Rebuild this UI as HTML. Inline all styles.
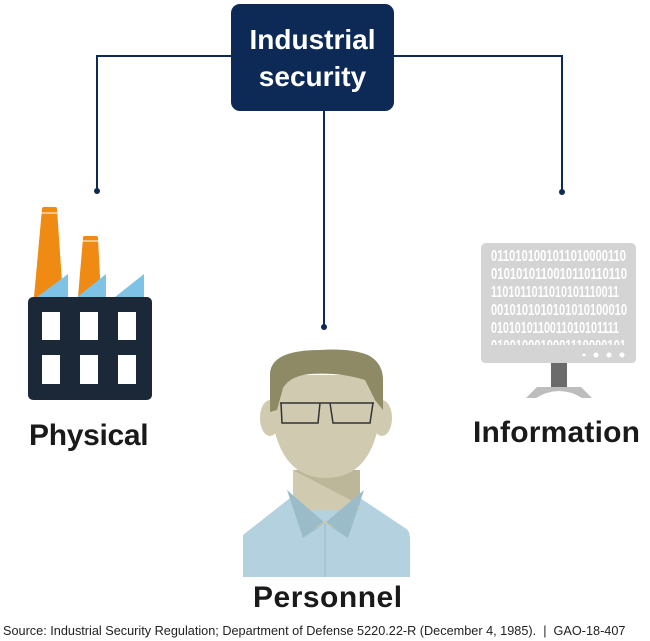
<!DOCTYPE html>
<html><head><style>
body{margin:0;width:650px;height:641px;background:#fff;position:relative;overflow:hidden;font-family:"Liberation Sans",Arial,sans-serif}
.t{position:absolute;font-weight:bold;color:#1a1a1a}
</style></head><body>
<svg width="650" height="641" style="position:absolute;left:0;top:0">
<g stroke="#0c2a55" stroke-width="2" fill="none">
<path d="M231 56 H97 V190"/><path d="M394 56 H562 V191"/><path d="M324 111 V326"/>
</g>
<g fill="#0c2a55"><circle cx="97" cy="191" r="3"/><circle cx="562" cy="192" r="3"/><circle cx="324" cy="327" r="3"/></g>
<rect x="231" y="4" width="163" height="107" rx="9" fill="#0c2a55"/>
<text x="312.5" y="49" text-anchor="middle" fill="#fff" font-size="28" font-weight="bold" font-family="Liberation Sans,Arial,sans-serif">Industrial</text>
<text x="312.5" y="86" text-anchor="middle" fill="#fff" font-size="28" font-weight="bold" font-family="Liberation Sans,Arial,sans-serif">security</text>
<!-- factory -->
<path d="M42 209 Q42 207 44 207 H55 Q57 207 57 209 L63 297 H34 Z" fill="#ef8a12"/>
<path d="M83 238 Q83 236 85 236 H96 Q98 236 98 238 L101 297 H78 Z" fill="#ef8a12"/>
<path d="M41 213 H57 M82 241 H99" stroke="#fff" stroke-width="1"/>
<g fill="#7ec3e6"><path d="M37 297 L68 274 V297Z"/><path d="M77 297 L106 274 V297Z"/><path d="M115 297 L144 274 V297Z"/></g>
<rect x="28" y="297" width="124" height="103" rx="5" fill="#1b2838"/>
<g fill="#fff"><rect x="42" y="312" width="18" height="28"/><rect x="80" y="312" width="18" height="28"/><rect x="118" y="312" width="18" height="28"/>
<rect x="42" y="355" width="18" height="29"/><rect x="80" y="355" width="18" height="29"/><rect x="118" y="355" width="18" height="29"/></g>
<!-- monitor -->
<rect x="481" y="243" width="155" height="120" rx="5" fill="#d4d4d4"/>
<g fill="#fff" font-family="Liberation Sans,Arial,sans-serif" font-weight="bold" font-size="16">
<text x="491" y="261" textLength="135" lengthAdjust="spacingAndGlyphs">0110101001011010000110</text>
<text x="491" y="279" textLength="136" lengthAdjust="spacingAndGlyphs">0101010110010110110110</text>
<text x="491" y="297" textLength="128" lengthAdjust="spacingAndGlyphs">1101011011010101110011</text>
<text x="491" y="315" textLength="136" lengthAdjust="spacingAndGlyphs">0010101010101010100010</text>
<text x="491" y="333" textLength="128" lengthAdjust="spacingAndGlyphs">0101010110011010101111</text>
<text x="491" y="351" textLength="135" lengthAdjust="spacingAndGlyphs">0100100010001110000101</text>
</g>
<rect x="481" y="345" width="155" height="18" rx="4" fill="#d4d4d4"/>
<g fill="#fff"><circle cx="584" cy="355" r="1.5"/><circle cx="596" cy="355" r="2.5"/><circle cx="609" cy="355" r="2.5"/><circle cx="622" cy="355" r="2.5"/></g>
<rect x="551" y="363" width="16" height="24" fill="#6b6b6b"/>
<path d="M537 387 H581 L592 398 H582 Q559 384 536 398 H526 Z" fill="#bdbdbd"/>
<!-- person -->
<path d="M243 535 L290 498 H360 L405 528 Q410 530 410 540 V577 H243 Z" fill="#b3d1df"/>
<rect x="293" y="470" width="67" height="40" fill="#cfcab0"/>
<path d="M293 470 H360 V505 Z" fill="#bdb79a"/>
<path d="M287 490 L325 523 L303 538 Z" fill="#9abcc8"/>
<path d="M364 490 L325 523 L348 538 Z" fill="#9abcc8"/>
<path d="M325 521 L312 530 L325 523 L337 530Z" fill="#cfcab0"/>
<line x1="325" y1="523" x2="325" y2="577" stroke="#9abcc8" stroke-width="1"/>
<ellipse cx="270" cy="418" rx="10" ry="18" fill="#cfcab0"/>
<ellipse cx="382" cy="418" rx="10" ry="18" fill="#cfcab0"/>
<path d="M270 385 Q270 478 326 478 Q382 478 382 385 V375 H270 Z" fill="#cfcab0"/>
<path d="M270 412 L270 373 Q272 350 320 350 Q350 348 368 355 Q383 363 383 380 L383 410 L375 400 L365 380 Q340 372 310 374 Q290 376 283 388 L277 410 Z" fill="#8f8a66"/>
<g stroke="#333" stroke-width="1.5" fill="none"><path d="M280 403 H374 M281 403 L282 423 H318 L320 403 M330 403 L333 423 H370 L373 403"/></g>
</svg>
<div class="t" style="left:29px;top:419px;font-size:30px;letter-spacing:-0.3px">Physical</div>
<div class="t" style="left:473px;top:416px;font-size:30px;letter-spacing:0.2px">Information</div>
<div class="t" style="left:253px;top:581px;font-size:30px;letter-spacing:0.5px">Personnel</div>
<div style="position:absolute;left:3px;top:624px;font-size:12.7px;color:#222;white-space:nowrap">Source: Industrial Security Regulation; Department of Defense 5220.22-R (December 4, 1985).&nbsp; |&nbsp; GAO-18-407</div>
</body></html>
